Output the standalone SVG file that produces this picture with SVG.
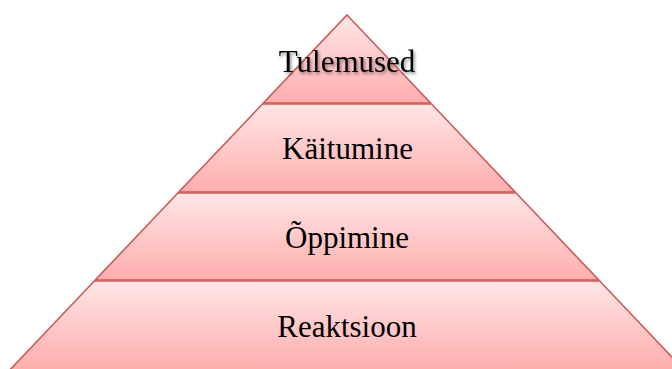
<svg xmlns="http://www.w3.org/2000/svg" width="672" height="369" viewBox="0 0 672 369">
<defs>
<linearGradient id="g" x1="0" y1="0" x2="0" y2="1">
<stop offset="0" stop-color="#ffe6e6"/>
<stop offset="1" stop-color="#ffadad"/>
</linearGradient>
<filter id="sh" x="-20%" y="-40%" width="140%" height="180%">
<feDropShadow dx="1.5" dy="2" stdDeviation="1.5" flood-color="#000" flood-opacity="0.45"/>
</filter>
</defs>
<style>
.tier{fill:url(#g);stroke:#c95c59;stroke-width:1.6;stroke-linejoin:miter}
.lbl{font-family:"Liberation Serif","Times New Roman",serif;font-size:31px;fill:#000;text-anchor:middle}
</style>
<rect width="672" height="369" fill="#fff"/>
<g id="tier-tulemused">
<polygon class="tier" points="347,15 430.6,103 263.4,103"/>
<text class="lbl" x="347" y="72" filter="url(#sh)">Tulemused</text>
</g>
<g id="tier-kaitumine">
<polygon class="tier" points="262.45,104 431.55,104 515.15,192 178.85,192"/>
<text class="lbl" x="347.5" y="159">Käitumine</text>
</g>
<g id="tier-oppimine">
<polygon class="tier" points="177.9,193 516.1,193 598.75,280 95.25,280"/>
<text class="lbl" x="347" y="248">Õppimine</text>
</g>
<g id="tier-reaktsioon">
<polygon class="tier" points="94.3,281 599.7,281 684.25,370 9.75,370"/>
<text class="lbl" x="347" y="337">Reaktsioon</text>
</g>
<g id="connectors"></g>
</svg>
